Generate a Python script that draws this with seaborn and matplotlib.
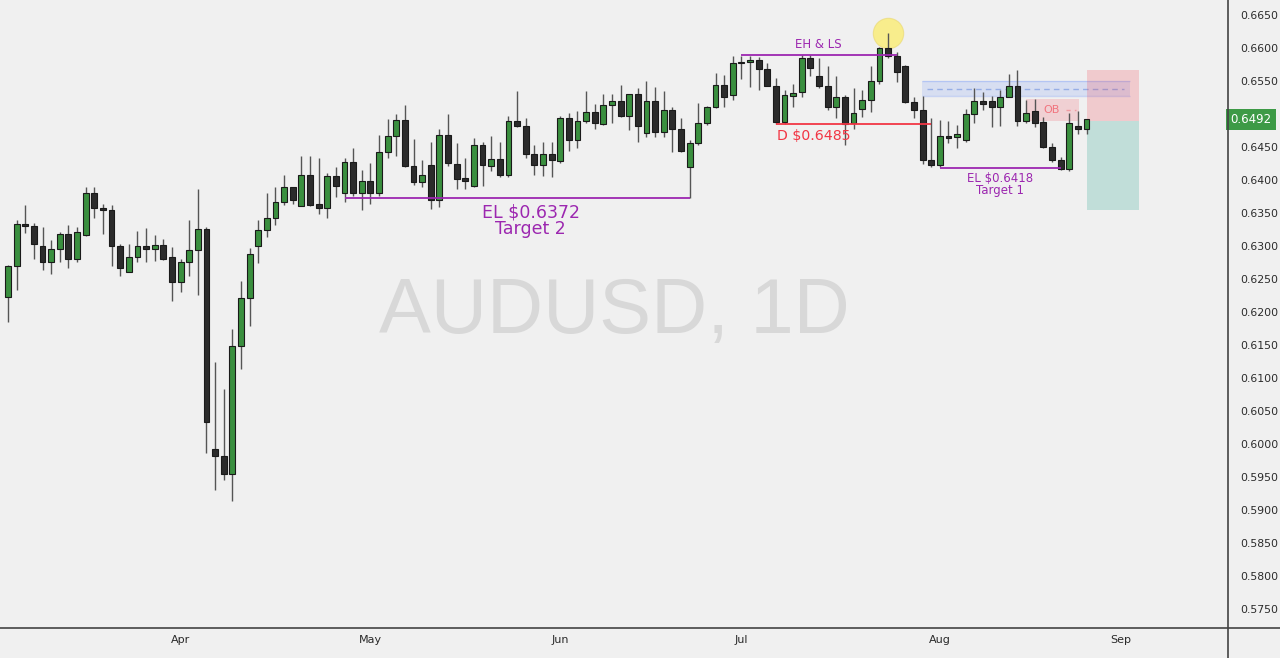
import pandas as pd
import numpy as np
import matplotlib.pyplot as plt
import seaborn as sns
from matplotlib.lines import Line2D

# daily AUDUSD candles, 2025-03-04 .. 2025-08-26
open_ = [0.6223, 0.6269, 0.6333, 0.6330, 0.6300, 0.6275, 0.6295, 0.6318, 0.6281, 0.6317,
         0.6381, 0.6358, 0.6355, 0.6300, 0.6261, 0.6284, 0.6300, 0.6295, 0.6302, 0.6283,
         0.6245, 0.6275, 0.6294, 0.6325, 0.5993, 0.5982, 0.5954, 0.6149, 0.6221, 0.6300,
         0.6324, 0.6342, 0.6367, 0.6389, 0.6361, 0.6407, 0.6363, 0.6357, 0.6406, 0.6381,
         0.6428, 0.6381, 0.6398, 0.6381, 0.6443, 0.6466, 0.6491, 0.6421, 0.6397, 0.6423,
         0.6370, 0.6468, 0.6424, 0.6403, 0.6391, 0.6453, 0.6421, 0.6432, 0.6407, 0.6489,
         0.6482, 0.6439, 0.6422, 0.6439, 0.6429, 0.6494, 0.6460, 0.6490, 0.6503, 0.6485,
         0.6514, 0.6519, 0.6497, 0.6530, 0.6471, 0.6520, 0.6472, 0.6506, 0.6478, 0.6419,
         0.6456, 0.6486, 0.6510, 0.6544, 0.6529, 0.6577, 0.6579, 0.6582, 0.6568, 0.6543,
         0.6488, 0.6528, 0.6533, 0.6585, 0.6558, 0.6542, 0.6511, 0.6525, 0.6486, 0.6508,
         0.6521, 0.6550, 0.6600, 0.6588, 0.6573, 0.6518, 0.6506, 0.6431, 0.6422, 0.6466,
         0.6465, 0.6460, 0.6500, 0.6520, 0.6520, 0.6510, 0.6526, 0.6543, 0.6490, 0.6505,
         0.6488, 0.6450, 0.6431, 0.6417, 0.6482, 0.6478]
high = [0.6271, 0.6340, 0.6362, 0.6335, 0.6329, 0.6309, 0.6321, 0.6332, 0.6329, 0.6390,
        0.6390, 0.6364, 0.6362, 0.6303, 0.6303, 0.6323, 0.6328, 0.6317, 0.6310, 0.6298,
        0.6281, 0.6339, 0.6387, 0.6329, 0.6124, 0.6083, 0.6174, 0.6247, 0.6297, 0.6340,
        0.6381, 0.6389, 0.6408, 0.6390, 0.6437, 0.6437, 0.6433, 0.6411, 0.6420, 0.6433,
        0.6448, 0.6415, 0.6426, 0.6468, 0.6492, 0.6500, 0.6513, 0.6462, 0.6430, 0.6458,
        0.6477, 0.6500, 0.6456, 0.6434, 0.6463, 0.6457, 0.6467, 0.6457, 0.6497, 0.6535,
        0.6494, 0.6453, 0.6458, 0.6457, 0.6497, 0.6501, 0.6504, 0.6535, 0.6515, 0.6530,
        0.6530, 0.6544, 0.6531, 0.6540, 0.6550, 0.6541, 0.6535, 0.6510, 0.6494, 0.6461,
        0.6517, 0.6512, 0.6562, 0.6559, 0.6588, 0.6588, 0.6588, 0.6587, 0.6577, 0.6555,
        0.6536, 0.6545, 0.6590, 0.6589, 0.6585, 0.6572, 0.6558, 0.6529, 0.6539, 0.6536,
        0.6572, 0.6602, 0.6622, 0.6594, 0.6574, 0.6526, 0.6527, 0.6494, 0.6491, 0.6489,
        0.6484, 0.6507, 0.6539, 0.6533, 0.6528, 0.6536, 0.6561, 0.6567, 0.6521, 0.6522,
        0.6496, 0.6456, 0.6435, 0.6501, 0.6504, 0.6492]
low = [0.6185, 0.6233, 0.6320, 0.6280, 0.6263, 0.6257, 0.6275, 0.6267, 0.6276, 0.6315,
       0.6342, 0.6318, 0.6270, 0.6255, 0.6260, 0.6276, 0.6276, 0.6278, 0.6279, 0.6217,
       0.6231, 0.6255, 0.6225, 0.5986, 0.5930, 0.5945, 0.5913, 0.6113, 0.6179, 0.6274,
       0.6314, 0.6332, 0.6362, 0.6364, 0.6360, 0.6360, 0.6348, 0.6342, 0.6374, 0.6366,
       0.6375, 0.6355, 0.6364, 0.6375, 0.6433, 0.6436, 0.6419, 0.6393, 0.6390, 0.6356,
       0.6359, 0.6421, 0.6387, 0.6386, 0.6390, 0.6391, 0.6414, 0.6405, 0.6405, 0.6480,
       0.6433, 0.6408, 0.6406, 0.6405, 0.6426, 0.6444, 0.6448, 0.6486, 0.6477, 0.6483,
       0.6487, 0.6496, 0.6475, 0.6458, 0.6465, 0.6465, 0.6465, 0.6443, 0.6442, 0.6372,
       0.6453, 0.6483, 0.6509, 0.6511, 0.6521, 0.6553, 0.6541, 0.6536, 0.6542, 0.6485,
       0.6485, 0.6510, 0.6525, 0.6558, 0.6540, 0.6506, 0.6494, 0.6453, 0.6478, 0.6496,
       0.6503, 0.6545, 0.6585, 0.6549, 0.6517, 0.6494, 0.6424, 0.6420, 0.6420, 0.6456,
       0.6448, 0.6458, 0.6487, 0.6506, 0.6481, 0.6482, 0.6525, 0.6482, 0.6487, 0.6481,
       0.6448, 0.6428, 0.6415, 0.6413, 0.6470, 0.6470]
close = [0.6270, 0.6333, 0.6331, 0.6303, 0.6275, 0.6295, 0.6318, 0.6280, 0.6321, 0.6381,
         0.6358, 0.6354, 0.6300, 0.6267, 0.6283, 0.6300, 0.6296, 0.6302, 0.6281, 0.6245,
         0.6275, 0.6294, 0.6325, 0.6034, 0.5982, 0.5955, 0.6149, 0.6221, 0.6288, 0.6324,
         0.6342, 0.6367, 0.6389, 0.6370, 0.6407, 0.6362, 0.6357, 0.6406, 0.6391, 0.6428,
         0.6381, 0.6398, 0.6381, 0.6442, 0.6466, 0.6491, 0.6421, 0.6397, 0.6407, 0.6370,
         0.6468, 0.6425, 0.6402, 0.6398, 0.6453, 0.6422, 0.6432, 0.6407, 0.6489, 0.6482,
         0.6439, 0.6422, 0.6439, 0.6430, 0.6494, 0.6460, 0.6489, 0.6503, 0.6487, 0.6514,
         0.6519, 0.6497, 0.6530, 0.6482, 0.6520, 0.6472, 0.6506, 0.6478, 0.6444, 0.6456,
         0.6486, 0.6510, 0.6544, 0.6526, 0.6577, 0.6579, 0.6582, 0.6568, 0.6543, 0.6488,
         0.6529, 0.6532, 0.6585, 0.6569, 0.6542, 0.6511, 0.6525, 0.6485, 0.6501, 0.6521,
         0.6550, 0.6600, 0.6588, 0.6563, 0.6518, 0.6506, 0.6430, 0.6422, 0.6466, 0.6464,
         0.6469, 0.6500, 0.6520, 0.6515, 0.6510, 0.6526, 0.6543, 0.6490, 0.6502, 0.6487,
         0.6450, 0.6430, 0.6417, 0.6487, 0.6478, 0.6492]

month_labels = ["Apr", "May", "Jun", "Jul", "Aug", "Sep"]
month_starts = ["2025-04-01", "2025-05-01", "2025-06-02", "2025-07-01", "2025-08-01", "2025-09-01"]
price_ticks = [0.5750, 0.5800, 0.5850, 0.5900, 0.5950, 0.6000, 0.6050, 0.6100, 0.6150,
               0.6200, 0.6250, 0.6300, 0.6350, 0.6400, 0.6450, 0.6550, 0.6600, 0.6650]
last_price = 0.6492

# drawn levels / zones
el_target2 = 0.6372
el_target1 = 0.6418
d_level = 0.6485
eh_ls = 0.6589
fvg_zone = (0.6527, 0.6550)
ob_zone = (0.6490, 0.6522)
stop_price, entry_price, target_price = 0.6567, 0.6490, 0.6355

dates = pd.bdate_range("2025-03-04", periods=len(close))
df = pd.DataFrame({"date": dates, "open": open_, "high": high, "low": low, "close": close})
df["x"] = np.arange(len(df))
df["up"] = df["close"] >= df["open"]
calendar = pd.bdate_range("2025-03-04", periods=140)
month_pos = calendar.searchsorted(pd.to_datetime(month_starts))

def xpos(day):
    return calendar.searchsorted(pd.Timestamp(day))

sns.set_theme(style="white", rc={"axes.facecolor": "#f0f0f0", "figure.facecolor": "#f0f0f0"})
plt.rcParams["font.family"] = ["DejaVu Sans"]

fig = plt.figure(figsize=(12.8, 6.58), dpi=100)
ax = fig.add_axes([0, 30 / 658, 1228 / 1280, 628 / 658])

green = "#3a8f3f"
dark = "#2b2b2b"
purple = "#9c27b0"
red = "#f23645"

# watermark
ax.text(0.5, 0.503, "AUDUSD, 1D", transform=ax.transAxes, ha="center", va="center",
        fontsize=56, color="#d8d8d8", family="Liberation Sans", zorder=0)

# candles
ax.vlines(df["x"], df["low"], df["high"], color="#555555", linewidth=1, zorder=2)
body = (df["close"] - df["open"]).abs().clip(lower=0.00015)
bottom = df[["open", "close"]].min(axis=1)
colors = np.where(df["up"], green, dark)
ax.bar(df["x"], body, bottom=bottom, width=0.68, color=colors,
       edgecolor="#1a1a1a", linewidth=0.8, zorder=3)

# zones
x_fvg = (xpos("2025-07-30") - 0.1, xpos("2025-09-01") + 1.0)
ax.fill_between(x_fvg, *fvg_zone, color="#2962ff", alpha=0.12, lw=0, zorder=1)
ax.hlines(list(fvg_zone), *x_fvg, color="#2962ff", alpha=0.2, lw=1, zorder=1)
ax.hlines(sum(fvg_zone) / 2, x_fvg[0] + 0.6, x_fvg[1] - 0.6, color="#6b8fe0",
          alpha=0.6, lw=1, linestyles=(0, (4, 3)), zorder=1)

x_ob = (xpos("2025-08-15"), xpos("2025-08-25") + 0.1)
ax.fill_between(x_ob, *ob_zone, color=red, alpha=0.17, lw=0, zorder=1)
ax.text(x_ob[0] + 3.0, sum(ob_zone) / 2, "OB", color=red, alpha=0.6, fontsize=8,
        ha="center", va="center", zorder=1)
ax.hlines(sum(ob_zone) / 2, x_ob[0] + 4.6, x_ob[1] - 0.3, color=red, alpha=0.35,
          lw=1, linestyles=(0, (3, 3)), zorder=1)

x_pos = (len(df) - 1, len(df) + 5.1)
ax.fill_between(x_pos, entry_price, stop_price, color=red, alpha=0.2, lw=0, zorder=1)
ax.fill_between(x_pos, target_price, entry_price, color="#089981", alpha=0.2, lw=0, zorder=1)

# levels
ax.scatter([xpos("2025-07-24")], [0.6623], s=480, color="#ffeb3b", alpha=0.55,
           edgecolor="#e8d56a", linewidth=0.8, zorder=1)

ax.hlines(el_target2, xpos("2025-04-28"), xpos("2025-06-23"), color=purple, lw=1.3, zorder=4)
ax.text(60.6, 0.6350, "EL $0.6372", color=purple, fontsize=12.5, ha="center", va="center")
ax.text(60.6, 0.6326, "Target 2", color=purple, fontsize=12.5, ha="center", va="center")

ax.hlines(eh_ls, xpos("2025-07-01"), xpos("2025-07-25"), color=purple, lw=1.3, zorder=4)
ax.text(93.9, 0.6605, "EH & LS", color=purple, fontsize=8.5, ha="center", va="center")

ax.hlines(d_level, xpos("2025-07-07"), xpos("2025-07-31"), color=red, lw=1.3, zorder=4)
ax.text(93.4, 0.6467, "D $0.6485", color=red, fontsize=10.2, ha="center", va="center")

ax.hlines(el_target1, xpos("2025-08-01"), xpos("2025-08-21"), color=purple, lw=1.3, zorder=4)
ax.text(115, 0.6402, "EL $0.6418", color=purple, fontsize=8.5, ha="center", va="center")
ax.text(115, 0.6384, "Target 1", color=purple, fontsize=8.5, ha="center", va="center")

# axes
ax.set_xlim(-0.93, 141.4)
ax.set_ylim(0.57212, 0.66727)
ax.yaxis.tick_right()
ax.set_yticks(price_ticks)
ax.set_yticklabels([f"{t:.4f}" for t in price_ticks])
ax.set_xticks(month_pos)
ax.set_xticklabels(month_labels)
ax.tick_params(axis="y", length=0, pad=9, labelsize=7.8, labelcolor="#2a2a2a")
ax.tick_params(axis="x", length=0, pad=5, labelsize=8, labelcolor="#2a2a2a")
for side in ["top", "left", "right", "bottom"]:
    ax.spines[side].set_visible(False)

ax.text(1.002, last_price, "0.6492", transform=ax.get_yaxis_transform(), ha="left",
        va="center", color="white", fontsize=8.5, clip_on=False,
        bbox=dict(boxstyle="square,pad=0.35", fc="#3d9a46", ec="none"))

fig.add_artist(Line2D([0, 1], [30 / 658, 30 / 658], color="#444444", lw=1.2))
fig.add_artist(Line2D([1228 / 1280, 1228 / 1280], [0, 1], color="#444444", lw=1.2))

fig.savefig("out.png", dpi=100, facecolor="#f0f0f0")
